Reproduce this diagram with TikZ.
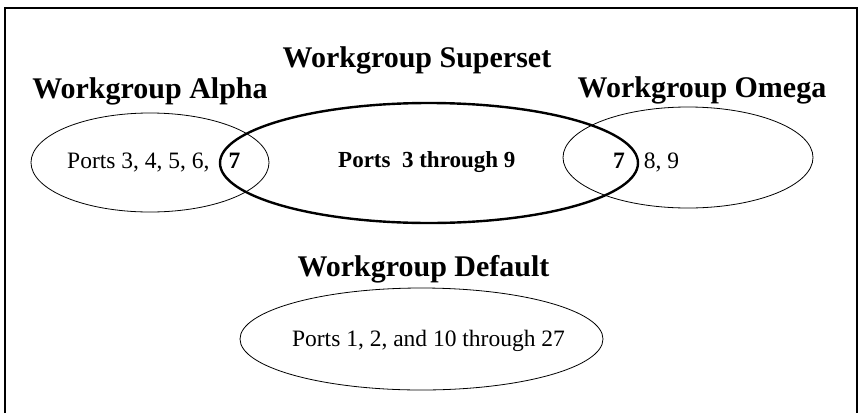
\documentclass[tikz,border=0pt]{standalone}
\usepackage{fontspec}
\setmainfont{Liberation Serif}
\usepackage{tikz}
\usetikzlibrary{
	shapes.geometric,           % For ellipse
	positioning                 % For "above=of node" syntax
}
\tikzset{
	group/.style={
		ellipse,
		draw,
		line width=0.8pt,
		inner sep=0pt
	},
	supergroup/.style={
		group,
		line width=2.4pt
	},
	title/.style={
		font=\fontsize{30}{34}\selectfont\bfseries,
		inner sep=0pt,
		anchor=base
	},
	ports/.style={
		font=\fontsize{23.5}{27}\selectfont,
		inner sep=0pt,
		anchor=base west
	}
}

\begin{document}
\begin{tikzpicture}[x=1pt, y=-1pt]
		\useasboundingbox (0,0) rectangle (859,413);
		
		% Frame (open at the bottom)
		\draw [line width=1.6pt] (5,413) -- (5,8) -- (857,8) -- (857,413);
		
		% Workgroup sets
		\node [group, minimum width=238pt, minimum height=99pt] (alpha) at (150,162.5) {};
		\node [supergroup, minimum width=418pt, minimum height=120pt] (superset) at (429,163) {};
		\node [group, minimum width=250pt, minimum height=101pt] (omega) at (688,157.5) {};
		\node [group, minimum width=363pt, minimum height=102pt] (default) at (421.5,339) {};
		
		% Set names
		\node [title] (alphaname) at (150,98) {Workgroup Alpha};
		\node [title] (supersetname) at (417,67) {Workgroup Superset};
		\node [title] (omeganame) at (702,97) {Workgroup Omega};
		\node [title] (defaultname) at (423.5,276) {Workgroup Default};
		
		% Members
		\node [ports] (alphaports) at (67,168) {Ports 3, 4, 5, 6,\hspace{19pt}\textbf{7}};
		\node [ports, font=\fontsize{23}{27}\selectfont\bfseries] (supersetports) at (338,167) {Ports\ \ 3 through 9};
		\node [ports] (omegaports) at (613,168) {\textbf{7}\hspace{19pt}8, 9};
		\node [ports, anchor=base] (defaultports) at (428.5,346) {Ports 1, 2, and 10 through 27};
	\end{tikzpicture}
\end{document}
